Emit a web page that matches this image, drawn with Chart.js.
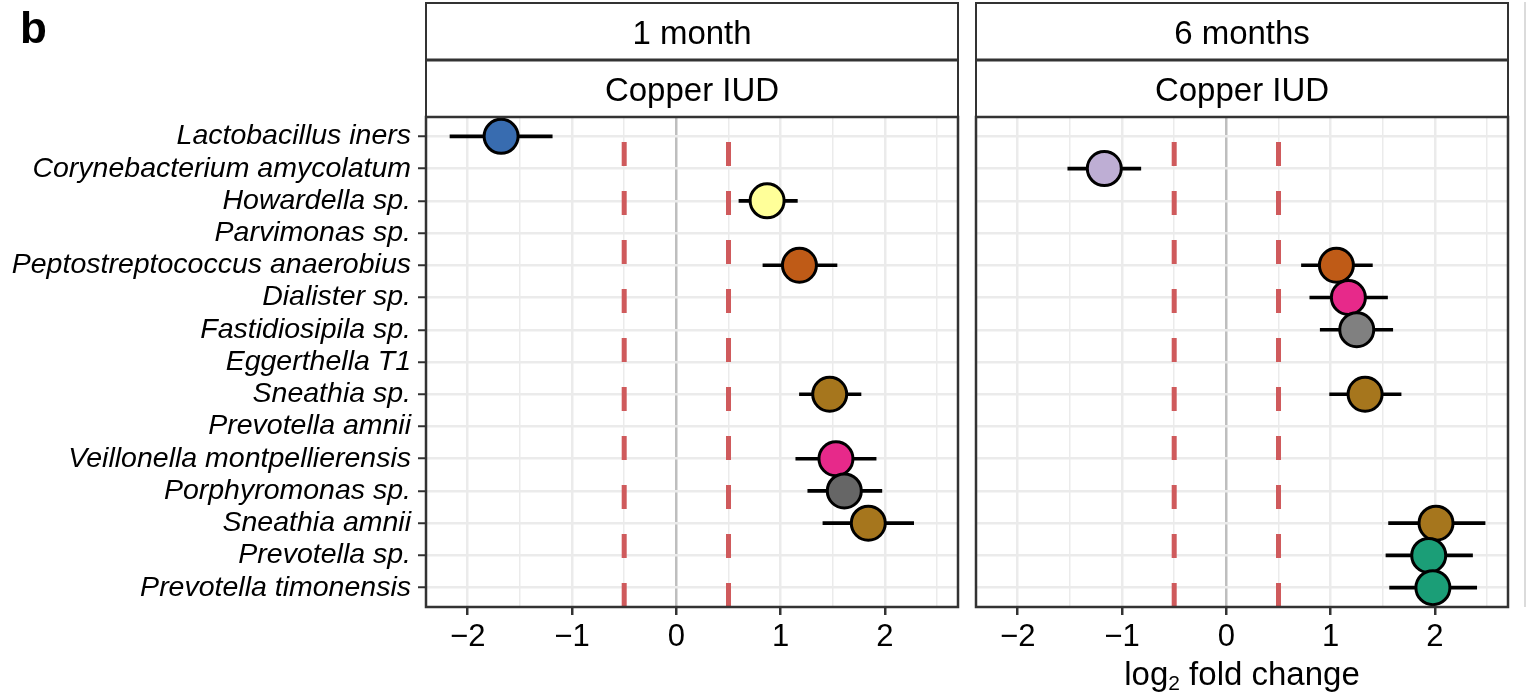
<!DOCTYPE html>
<html lang="en">
<head>
  <meta charset="UTF-8">
  <title>Copper IUD – log2 fold change</title>
  <script src="https://cdn.jsdelivr.net/npm/chart.js"></script>
  <style>
    body { margin: 0; background: #fff; overflow: hidden; }
    #wrap { position: relative; width: 1532px; height: 696px; }
    canvas { position: absolute; top: 0; }
    #left { left: 0; }
    #right { left: 960px; }
  </style>
</head>
<body>
<div id="wrap">
  <canvas id="left" width="962" height="696"></canvas>
  <canvas id="right" width="572" height="696"></canvas>
</div>
<script>
  // Data
  const species = [
    'Lactobacillus iners', 'Corynebacterium amycolatum', 'Howardella sp.', 'Parvimonas sp.',
    'Peptostreptococcus anaerobius', 'Dialister sp.', 'Fastidiosipila sp.', 'Eggerthella T1',
    'Sneathia sp.', 'Prevotella amnii', 'Veillonella montpellierensis', 'Porphyromonas sp.',
    'Sneathia amnii', 'Prevotella sp.', 'Prevotella timonensis'
  ];
  const speciesColors = [
    '#386CB0', '#BEAED4', '#FFFF99', '#999999', '#BF5B17', '#E7298A', '#808080', '#999999',
    '#A6761D', '#1B9E77', '#E7298A', '#666666', '#A6761D', '#1B9E77', '#1B9E77'
  ];
  const timepoints = ['1 month', '6 months'];
  const groupLabel = 'Copper IUD';

  // 1 month: estimate and interval
  const lfcMonth1 = [-1.68, null, 0.87, null, 1.18, null, null, null, 1.47, null, 1.53, 1.61, 1.84, null, null];
  const loMonth1  = [-2.17, null, 0.60, null, 0.83, null, null, null, 1.18, null, 1.145, 1.26, 1.405, null, null];
  const hiMonth1  = [-1.19, null, 1.16, null, 1.54, null, null, null, 1.77, null, 1.915, 1.97, 2.275, null, null];

  // 6 months
  const lfcMonth6 = [null, -1.17, null, null, 1.055, 1.17, 1.25, null, 1.33, null, null, null, 2.01, 1.94, 1.98];
  const loMonth6  = [null, -1.52, null, null, 0.72, 0.80, 0.90, null, 0.99, null, null, null, 1.555, 1.53, 1.565];
  const hiMonth6  = [null, -0.82, null, null, 1.40, 1.545, 1.595, null, 1.675, null, null, null, 2.48, 2.36, 2.40];

  const foldThresholds = [-0.5, 0.5];
  const xTickValues = [-2, -1, 0, 1, 2];
  const xGridValues = [-2, -1.5, -1, -0.5, 0, 0.5, 1, 1.5, 2, 2.5];
  const X_MIN = -2.4, X_MAX = 2.7;
  const Y_MIN = -0.6, Y_MAX = 14.6;

  const FONT = "'Liberation Sans', Arial, Helvetica, sans-serif";

  const fmtTick = v => v < 0 ? '\u2212' + Math.abs(v) : String(v);

  // strips, panel border and extra labels
  const panelFrame = {
    id: 'panelFrame',
    afterDraw(chart, args, opts) {
      const { ctx, chartArea: a } = chart;
      const w = a.right - a.left;
      ctx.save();
      // strips
      ctx.fillStyle = '#fff';
      ctx.fillRect(a.left, 3, w, 114);
      ctx.strokeStyle = '#333';
      ctx.lineWidth = 2;
      ctx.strokeRect(a.left, 3, w, 57);
      ctx.strokeRect(a.left, 60, w, 57);
      ctx.lineWidth = 3;
      ctx.beginPath();
      ctx.moveTo(a.left, 60); ctx.lineTo(a.right, 60);
      ctx.stroke();
      ctx.fillStyle = '#000';
      ctx.font = `33px ${FONT}`;
      ctx.textAlign = 'center';
      ctx.textBaseline = 'alphabetic';
      const cx = (a.left + a.right) / 2;
      ctx.fillText(opts.strip1, cx, 44);
      ctx.fillText(opts.strip2, cx, 101);
      // panel border
      ctx.strokeStyle = '#333';
      ctx.lineWidth = 2.5;
      ctx.strokeRect(a.left, a.top, w, a.bottom - a.top);

      if (opts.panelTag) {
        ctx.textAlign = 'left';
        ctx.font = `bold 44px ${FONT}`;
        ctx.fillText(opts.panelTag, 20, 43);
      }
      if (opts.xTitle) {
        ctx.textAlign = 'left';
        const big = `33px ${FONT}`, small = `21px ${FONT}`;
        ctx.font = big;
        const w1 = ctx.measureText('log').width;
        const w3 = ctx.measureText(' fold change').width;
        ctx.font = small;
        const w2 = ctx.measureText('2').width;
        let x = cx - (w1 + w2 + w3) / 2;
        ctx.font = big; ctx.fillText('log', x, 685); x += w1;
        ctx.font = small; ctx.fillText('2', x, 690); x += w2;
        ctx.font = big; ctx.fillText(' fold change', x, 685);
      }
      if (opts.edgeLine) {
        ctx.strokeStyle = '#CFCFCF';
        ctx.lineWidth = 1.5;
        ctx.beginPath();
        ctx.moveTo(opts.edgeLine, 2); ctx.lineTo(opts.edgeLine, 607);
        ctx.stroke();
      }
      ctx.restore();
    }
  };

  function buildPanel(canvasId, lfc, lo, hi, frameOpts, isLeft) {
    const points = [], bars = [], colors = [];
    species.forEach((name, i) => {
      if (lfc[i] === null) return;
      points.push({ x: lfc[i], y: i });
      bars.push({ y: i, x: [lo[i], hi[i]] });
      colors.push(speciesColors[i]);
    });

    const thresholdSets = foldThresholds.map(t => ({
      type: 'line',
      data: [{ x: t, y: Y_MAX }, { x: t, y: Y_MIN }],
      borderColor: '#CF5A5C',
      borderWidth: 5,
      borderDash: [24, 25],
      borderCapStyle: 'butt',
      pointRadius: 0,
      fill: false,
      order: 3
    }));

    return new Chart(document.getElementById(canvasId), {
      type: 'scatter',
      data: {
        datasets: [
          {
            type: 'scatter', data: points,
            pointRadius: 17, pointBorderWidth: 3,
            pointBorderColor: '#000', pointBackgroundColor: colors,
            order: 1
          },
          {
            type: 'bar', data: bars, indexAxis: 'y',
            backgroundColor: '#000', borderWidth: 0, barThickness: 3,
            order: 2
          },
          ...thresholdSets
        ]
      },
      options: {
        responsive: false,
        animation: false,
        events: [],
        layout: {
          autoPadding: false,
          padding: { top: 117, bottom: 0, left: isLeft ? 0 : 16, right: isLeft ? 4 : 24 }
        },
        plugins: {
          legend: { display: false },
          tooltip: { enabled: false },
          panelFrame: frameOpts
        },
        scales: {
          x: {
            type: 'linear', min: X_MIN, max: X_MAX,
            afterBuildTicks: s => { s.ticks = xGridValues.map(v => ({ value: v })); },
            afterFit: s => { s.height = 89; },
            border: { display: false },
            grid: {
              color: c => (c.tick && c.tick.value === 0) ? '#BEBEBE' : '#EBEBEB',
              lineWidth: c => (c.tick && Number.isInteger(c.tick.value)) ? 2.5 : 1.5,
              tickLength: 8,
              tickWidth: 2.5,
              tickColor: c => (c.tick && xTickValues.includes(c.tick.value)) ? '#333' : 'rgba(0,0,0,0)'
            },
            ticks: {
              autoSkip: false, maxRotation: 0, padding: 4, color: '#000',
              font: { family: FONT, size: 31 },
              callback: v => xTickValues.includes(v) ? fmtTick(v) : ''
            }
          },
          y: {
            type: 'linear', reverse: true, min: Y_MIN, max: Y_MAX, offset: false,
            afterBuildTicks: s => { s.ticks = species.map((_, i) => ({ value: i })); },
            afterFit: s => { s.width = isLeft ? 426 : 0; },
            border: { display: false },
            grid: {
              offset: false,
              color: '#EBEBEB', lineWidth: 2.5,
              drawTicks: isLeft, tickLength: 8, tickWidth: 2, tickColor: '#333'
            },
            ticks: {
              display: isLeft, autoSkip: false, padding: 7, color: '#000',
              font: { family: FONT, size: 28.5, style: 'italic' },
              callback: v => species[v]
            }
          }
        }
      },
      plugins: [panelFrame]
    });
  }

  buildPanel('left', lfcMonth1, loMonth1, hiMonth1,
    { strip1: timepoints[0], strip2: groupLabel, panelTag: 'b' }, true);
  buildPanel('right', lfcMonth6, loMonth6, hiMonth6,
    { strip1: timepoints[1], strip2: groupLabel, xTitle: true, edgeLine: 565 }, false);
</script>
</body>
</html>
